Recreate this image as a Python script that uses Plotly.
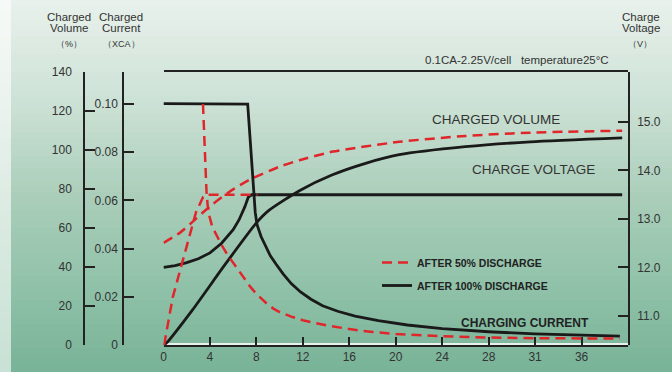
import plotly.graph_objects as go

W, H = 672, 372

# ---------------- data ----------------
# x axis (hours)
x_tickvals = [0, 4, 8, 12, 16, 20, 24, 28, 32, 36]
x_ticktext = ["0", "4", "8", "12", "16", "20", "24", "28", "31", "36"]

# charged volume (%)
t_vol100 = [0, 0.25, 2.5, 5.4, 8.0, 9.1, 11.7, 14.5, 17.4, 20.3, 26, 31.6, 39.5]
vol100 = [0, 1, 18, 42, 62.5, 69, 79, 87, 93, 97.4, 101.5, 104, 106]
t_vol50 = [0, 1.4, 2.5, 4, 5.7, 7.4, 10, 11.7, 14.6, 20.3, 26, 31.6, 39.5]
vol50 = [52.3, 57.4, 63, 71, 78.5, 84.6, 91.3, 94.6, 99, 104, 107, 108.7, 109.7]

# charge voltage (V, battery)
t_v100 = [0, 1, 2, 3, 4, 5, 6, 6.5, 7.0, 7.3, 7.6, 39.5]
v100 = [12.0, 12.04, 12.1, 12.18, 12.3, 12.5, 12.78, 12.98, 13.25, 13.45, 13.5, 13.5]
t_v50 = [0.05, 0.8, 1.6, 2.4, 2.8, 3.4, 3.6, 8.1]
v50 = [10.4, 11.39, 12.09, 12.77, 13.14, 13.45, 13.5, 13.5]

# charging current (xCA)
t_c100 = [0, 7.25, 7.9, 8.05, 8.4, 8.8, 9.2, 9.7, 10.3, 11.0, 11.8, 12.7, 13.7, 15.0,
          16.5, 18.5, 21, 24, 28, 32, 36, 39.3]
c100 = [0.1002, 0.1000, 0.055, 0.050, 0.045, 0.041, 0.037, 0.0335, 0.0295, 0.0255, 0.022,
        0.019, 0.0163, 0.0140, 0.0120, 0.0101, 0.0083, 0.0068, 0.0055, 0.0046, 0.0040, 0.0037]
t_c50 = [3.4, 3.5, 3.6, 3.7, 3.8, 3.95, 4.2, 4.6, 5.0, 5.5, 6.0, 6.5, 7.0, 7.5, 8.0, 8.5,
         9.0, 9.5, 10, 11, 12, 13, 14, 16, 18, 20, 24, 28, 32, 39.3]
c50 = [0.100, 0.085, 0.073, 0.064, 0.058, 0.0535, 0.049, 0.045, 0.0415, 0.0375, 0.034,
       0.0305, 0.027, 0.024, 0.0212, 0.0188, 0.0167, 0.015, 0.0137, 0.0118, 0.0103, 0.0092,
       0.0082, 0.0066, 0.0054, 0.0046, 0.0036, 0.0031, 0.0028, 0.0027]

# axis ticks
vol_ticks = [0, 20, 40, 60, 80, 100, 120, 140]
cur_ticks = [0, 0.02, 0.04, 0.06, 0.08, 0.10]
cur_ticktext = ["0", "0.02", "0.04", "0.06", "0.08", "0.10"]
volt_ticks = [11, 12, 13, 14, 15]
volt_ticktext = ["11.0", "12.0", "13.0", "14.0", "15.0"]
cell_ticktext = ["0", "1.83", "2.00", "2.16", "2.33", "2.50"]
CELLS = 6
VOLT_RANGE = [10.402, 16.041]

# ---------------- styling ----------------
FONT = "Arial, 'Liberation Sans', sans-serif"
TXT = "#333333"
AX = "#222222"
RED = "#e0262b"
BLK = "#1a1a1a"

def px(x):
    return x / W

def py(y):
    return 1 - y / H

xdom = [px(163.5), px(628)]
ydom = [py(345), py(71.5)]

fig = go.Figure()

# black (after 100%) first, red on top
fig.add_trace(go.Scatter(x=t_vol100, y=vol100, yaxis="y2", mode="lines",
                         line=dict(color=BLK, width=2.8, shape="spline", smoothing=0.6),
                         showlegend=False, hoverinfo="skip"))
fig.add_trace(go.Scatter(x=t_v100, y=v100, yaxis="y4", mode="lines",
                         line=dict(color=BLK, width=2.8),
                         showlegend=False, hoverinfo="skip"))
fig.add_trace(go.Scatter(x=t_c100, y=c100, yaxis="y3", mode="lines",
                         line=dict(color=BLK, width=2.8),
                         name="AFTER 100% DISCHARGE", legendgroup="b", legendrank=2,
                         showlegend=True, hoverinfo="skip"))

dash = "10px,6px"
fig.add_trace(go.Scatter(x=t_vol50, y=vol50, yaxis="y2", mode="lines",
                         line=dict(color=RED, width=2.5, dash=dash, shape="spline", smoothing=0.6),
                         showlegend=False, hoverinfo="skip"))
fig.add_trace(go.Scatter(x=t_v50, y=v50, yaxis="y4", mode="lines",
                         line=dict(color=RED, width=2.5, dash=dash),
                         showlegend=False, hoverinfo="skip"))
fig.add_trace(go.Scatter(x=t_c50, y=c50, yaxis="y3", mode="lines",
                         line=dict(color=RED, width=2.5, dash=dash),
                         name="AFTER 50% DISCHARGE", legendgroup="a", legendrank=1,
                         showlegend=True, hoverinfo="skip"))

common = dict(showgrid=False, zeroline=False, showline=True, linecolor=AX, linewidth=1.5,
              ticks="inside", ticklen=10, tickwidth=1.5, tickcolor=AX,
              tickfont=dict(family=FONT, size=12, color=TXT), automargin=False,
              fixedrange=True)

cell_vals = [VOLT_RANGE[0] / CELLS] + [v / CELLS for v in volt_ticks]

fig.update_layout(
    width=W, height=H,
    margin=dict(l=0, r=0, t=0, b=0),
    template="none",
    paper_bgcolor="#a9cdb9",
    plot_bgcolor="rgba(0,0,0,0)",
    xaxis=dict(domain=xdom, range=[0, 40], tickvals=x_tickvals, ticktext=x_ticktext,
               mirror=True, **{**common, "ticklen": 8}),
    yaxis=dict(domain=ydom, range=[VOLT_RANGE[0] / CELLS, VOLT_RANGE[1] / CELLS],
               tickvals=cell_vals, ticktext=cell_ticktext, anchor="x", mirror=True,
               ticklabelstandoff=0, **common),
    yaxis2=dict(domain=ydom, range=[0, 140], tickvals=vol_ticks, overlaying="y",
                anchor="free", position=px(84), side="left", ticklabelstandoff=9, **common),
    yaxis3=dict(domain=ydom, range=[0, 0.1135], tickvals=cur_ticks, ticktext=cur_ticktext,
                overlaying="y", anchor="free", position=px(123), side="left",
                ticklabelstandoff=2, **common),
    yaxis4=dict(domain=ydom, range=VOLT_RANGE, tickvals=volt_ticks, ticktext=volt_ticktext,
                overlaying="y", anchor="x", side="right", ticklabelstandoff=5, **common),
    yaxis5=dict(domain=ydom, range=[VOLT_RANGE[0] / CELLS, VOLT_RANGE[1] / CELLS],
                tickvals=cell_vals[1:], showticklabels=False, overlaying="y", anchor="x",
                side="left", showline=False, showgrid=False, zeroline=False,
                ticks="outside", ticklen=3, tickwidth=1.5, tickcolor=AX, fixedrange=True),
    legend=dict(x=px(377), y=py(248), xanchor="left", yanchor="top",
                bgcolor="rgba(0,0,0,0)", borderwidth=0, traceorder="grouped",
                tracegroupgap=4,
                font=dict(family=FONT, size=10.5, color="#222222", weight="bold")),
    showlegend=True,
)

# background gradient (decorative)
stops = [(0, (0xe9, 0xf1, 0xec)), (100, (0xcd, 0xe2, 0xd6)), (200, (0xa9, 0xcd, 0xb9)),
         (300, (0x8c, 0xc0, 0xa6)), (372, (0x78, 0xb2, 0x97))]

def col_at(y):
    for (y0, c0), (y1, c1) in zip(stops[:-1], stops[1:]):
        if y0 <= y <= y1:
            f = (y - y0) / (y1 - y0)
            return "rgb(%d,%d,%d)" % tuple(round(a + (b - a) * f) for a, b in zip(c0, c1))
    return "rgb(120,178,151)"

shapes = []
step = 6
for y in range(0, H, step):
    shapes.append(dict(type="rect", xref="paper", yref="paper", x0=0, x1=1,
                       y0=py(min(y + step, H)), y1=py(y), fillcolor=col_at(y + step / 2),
                       line=dict(width=0), layer="below"))
shapes.append(dict(type="rect", xref="paper", yref="paper", x0=0, x1=px(11), y0=0, y1=1,
                   fillcolor="rgba(255,255,255,0.6)", line=dict(width=0), layer="below"))
shapes.append(dict(type="rect", xref="x domain", yref="y domain", x0=0, x1=1, y0=0, y1=1,
                   fillcolor="#e7f1ec", line=dict(width=0), layer="below"))
fig.update_layout(shapes=shapes)

def ann(text, x, y, size=11, xanchor="center", bold=False, color=TXT):
    fig.add_annotation(text=text, x=px(x), y=py(y), xref="paper", yref="paper",
                       xanchor=xanchor, yanchor="middle", showarrow=False,
                       font=dict(family=FONT, size=size, color=color,
                                 weight="bold" if bold else "normal"))

ann("Charged", 69, 17.5, 11.5)
ann("Volume", 69, 27.5, 11.5)
ann("（%）", 69, 43.5, 9)
ann("Charged", 121, 17.5, 11.5)
ann("Current", 121, 27.5, 11.5)
ann("（XCA）", 121, 43.5, 9)
ann("Charge", 641, 17.5, 11.5)
ann("Voltage", 641, 27.5, 11.5)
ann("（V）", 640, 43.5, 9)
ann("0.1CA-2.25V/cell   temperature25°C", 423, 60, 11.5, xanchor="left")
ann("CHARGED VOLUME", 430, 120, 13.5, xanchor="left")
ann("CHARGE VOLTAGE", 470, 169, 13.5, xanchor="left")
ann("CHARGING CURRENT", 459, 323, 12, xanchor="left", bold=True, color="#222222")

fig.write_html("out.html", config={"displayModeBar": False},
               post_script="document.body.style.margin='0';document.body.style.overflow='hidden';")
